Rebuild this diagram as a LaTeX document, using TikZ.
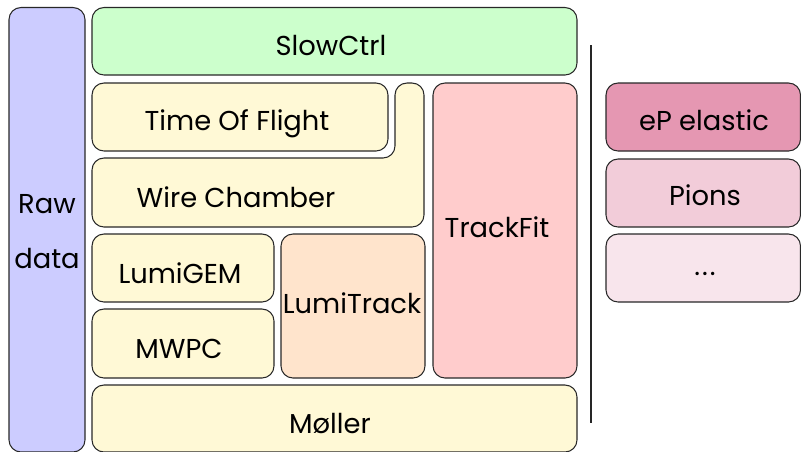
\documentclass[tikz,border=0pt]{standalone}
\usepackage{fontspec}
\setmainfont{Poppins}
\definecolor{rawc}{RGB}{204,204,255}
\definecolor{slowc}{RGB}{204,255,204}
\definecolor{yelc}{RGB}{255,249,214}
\definecolor{lumtc}{RGB}{255,228,204}
\definecolor{trkc}{RGB}{255,204,204}
\definecolor{epc}{RGB}{229,151,178}
\definecolor{pionc}{RGB}{242,204,217}
\definecolor{dotc}{RGB}{248,229,236}
\definecolor{edgec}{RGB}{40,40,40}
\tikzset{
  box/.style={draw=edgec, line width=0.8pt, rounded corners=9pt},
  lbl/.style={font=\fontsize{20.5}{24}\selectfont, inner sep=0pt, anchor=base},
}
\begin{document}
\begin{tikzpicture}[x=0.75pt, y=-0.75pt]
\useasboundingbox (0,0) rectangle (801,451);
% boxes
\draw[box, fill=rawc] (9,7.5) rectangle (85,452);
\draw[box, fill=slowc] (92,7.5) rectangle (577,75);
\draw[box, fill=yelc] (92,83) rectangle (388,151);
\draw[box, fill=yelc] (92,227) -- (92,158) -- (395,158) -- (395,83) -- (424,83) -- (424,227) -- cycle;
\draw[box, fill=trkc] (433,83) rectangle (577,378);
\draw[box, fill=yelc] (92,234) rectangle (274,302);
\draw[box, fill=yelc] (92,309) rectangle (274,378);
\draw[box, fill=lumtc] (281,234) rectangle (425,378);
\draw[box, fill=yelc] (92,385) rectangle (577,452);
\draw[box, fill=epc] (606,83) rectangle (800.5,151);
\draw[box, fill=pionc] (606,159) rectangle (800.5,227);
\draw[box, fill=dotc] (606,234) rectangle (800.5,302);
\coordinate (vtop) at (591,45);
\coordinate (vbot) at (591,423);
\draw[line width=1.5pt, black!85] (vtop) -- (vbot);
% labels
\node[lbl] (raw) at (47,213) {Raw};
\node[lbl] (data) at (47,268) {data};
\node[lbl] (slow) at (331,55) {SlowCtrl};
\node[lbl] (tof) at (237,130) {Time Of Flight};
\node[lbl] (wire) at (236,207) {Wire Chamber};
\node[lbl] (lgem) at (180,283) {LumiGEM};
\node[lbl] (mwpc) at (179,358) {MWPC};
\node[lbl] (ltrk) at (352,313) {LumiTrack};
\node[lbl] (tfit) at (497,237) {TrackFit};
\node[lbl] (mol) at (330,433) {Møller};
\node[lbl] (ep) at (704,130) {eP elastic};
\node[lbl] (pion) at (705,205) {Pions};
\node[lbl] (dots) at (705,275) {.\kern1.5pt.\kern1.5pt.};
\end{tikzpicture}
\end{document}
